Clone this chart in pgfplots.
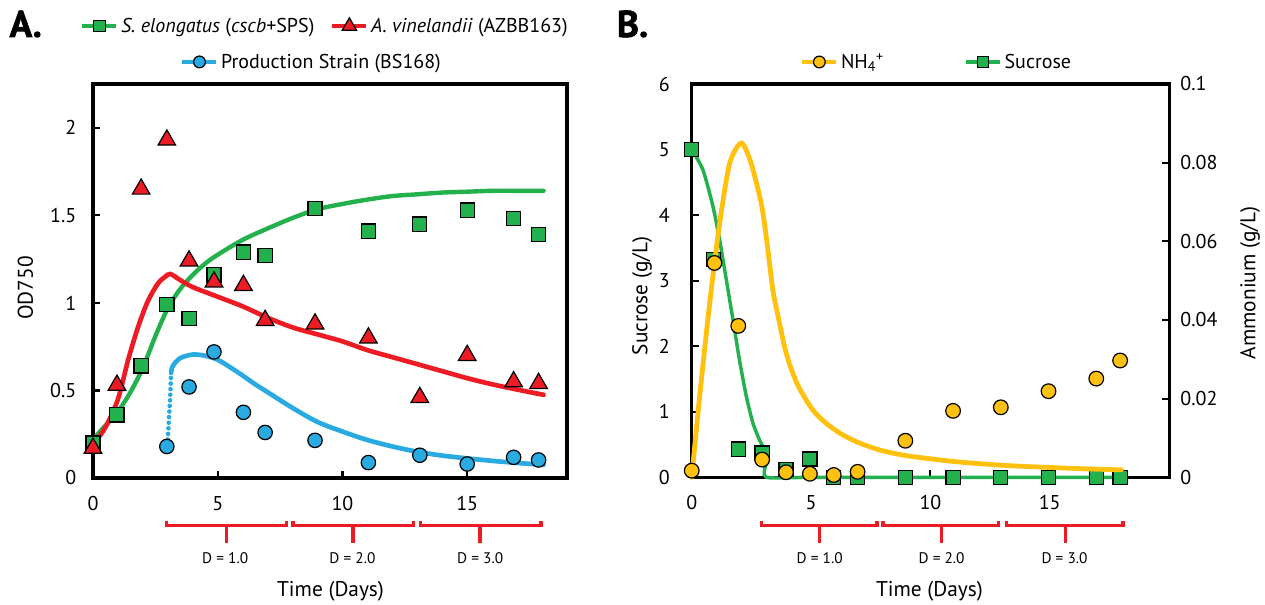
\documentclass[border=0pt]{standalone}
\usepackage{fontspec}
\setmainfont{PT Sans}
\newfontfamily\heavyfont[FakeBold=1.6]{PT Sans}
\usepackage{pgfplots}
\pgfplotsset{compat=1.18}
\definecolor{cgreen}{RGB}{34,177,76}
\definecolor{cred}{RGB}{237,28,36}
\definecolor{cblue}{RGB}{41,171,226}
\definecolor{cyel}{RGB}{255,192,14}
\tikzset{brk/.style={cred, line width=2.6pt}}
\pgfplotsset{
  base/.style={
    scale only axis, clip=false,
    axis line style={line width=2.3pt, black},
    every tick/.style={black, line width=1.6pt},
    major tick length=5.5pt, tick align=inside,
    ticklabel style={font=\fontsize{15}{18}\selectfont},
    /pgf/number format/assume math mode=true,
    legend style={draw=none, fill=none, inner sep=0pt, font=\fontsize{15}{18}\selectfont, anchor=west},
    legend image code/.code={\draw[##1, mark repeat=2, mark phase=2] plot coordinates {(0pt,0pt)(12.75pt,0pt)(25.5pt,0pt)};},
  },
  sqm/.style={mark=square*, mark size=#1, mark options={solid, fill=cgreen, draw=black, line width=0.9pt}},
  trm/.style={mark=triangle*, mark size=#1, mark options={solid, fill=cred, draw=black, line width=0.9pt}},
  cbm/.style={mark=*, mark size=#1, mark options={solid, fill=cblue, draw=black, line width=0.9pt}},
  cym/.style={mark=*, mark size=#1, mark options={solid, fill=cyel, draw=black, line width=0.9pt}},
}
\begin{document}
\begin{tikzpicture}
\useasboundingbox (0pt,0pt) rectangle (948.75pt,-453.75pt);
% ---------------- Panel A ----------------
\begin{axis}[base, at={(69.75pt,-358.5pt)}, anchor=south west, width=355.5pt, height=295.5pt,
  xmin=0, xmax=19, ymin=0, ymax=2.25, xtick={0,5,10,15}, ytick={0,0.5,1,1.5,2},
  xtick pos=bottom, ytick pos=left,
  xticklabel style={yshift=-10pt}, yticklabel style={xshift=-9pt},
  legend columns=2,
  legend style={at={(axis description cs:-0.027,1.147)}, /tikz/every even column/.append style={column sep=10pt}}]
\addlegendimage{cgreen, line width=3pt, sqm=4.3pt}
\addlegendentry{\textit{S. elongatus} (\textit{cscb}+SPS)}
\addlegendimage{cred, line width=3pt, trm=6.2pt}
\addlegendentry{\textit{A. vinelandii} (AZBB163)}
% model curves
\addplot[forget plot, cgreen, line width=3.3pt, line cap=round, smooth] coordinates {
(0,0.22)(0.5,0.30)(1.0,0.38)(1.5,0.49)(2.0,0.63)(2.5,0.81)(3.0,0.97)(3.5,1.08)(4.0,1.16)(4.5,1.225)(5.0,1.275)
(6.0,1.36)(7.0,1.425)(8.0,1.485)(9.0,1.535)(10,1.565)(11,1.59)(12,1.61)(13,1.62)(14,1.63)(15,1.635)(16,1.64)(17,1.64)(18.06,1.64)};
\addplot[forget plot, cred, line width=3.5pt, line cap=round, smooth, tension=0.5] coordinates {
(0,0.19)(0.5,0.29)(1.0,0.45)(1.4,0.67)(1.8,0.86)(2.2,1.01)(2.6,1.11)(2.9,1.15)(3.1,1.165)(3.5,1.13)(4.0,1.09)
(5.0,1.035)(6.0,0.98)(7.0,0.915)(8.0,0.86)(9.0,0.82)(10,0.78)(11,0.73)(12,0.69)(13,0.65)(14,0.61)(15,0.57)(16,0.535)(17,0.505)(18.06,0.475)};
\addplot[forget plot, cblue, line width=3.5pt, line cap=round, dash pattern=on 0pt off 4.2pt, smooth] coordinates {
(3.0,0.22)(3.05,0.35)(3.1,0.48)(3.13,0.6)};
\addplot[forget plot, cblue, line width=3.5pt, line cap=round, smooth] coordinates {
(3.13,0.6)(3.2,0.64)(3.5,0.685)(4.0,0.705)(4.5,0.698)(5.0,0.675)(5.5,0.632)(6.0,0.585)(6.5,0.535)(7.0,0.49)
(8.0,0.40)(9.0,0.32)(10,0.265)(11,0.217)(12,0.18)(13,0.15)(14,0.128)(15,0.112)(16,0.098)(17,0.086)(18.06,0.075)};
% data
\addplot[forget plot, only marks, sqm=5.3pt] coordinates {
(0,0.20)(0.96,0.36)(1.93,0.64)(2.96,0.99)(3.85,0.91)(4.85,1.16)(6.03,1.29)(6.9,1.27)(8.9,1.54)(11.04,1.41)(13.1,1.45)(15.0,1.53)(16.86,1.48)(17.86,1.39)};
\addplot[forget plot, only marks, trm=7.6pt] coordinates {
(0,0.17)(0.96,0.53)(1.93,1.65)(2.96,1.93)(3.85,1.24)(4.85,1.12)(6.03,1.10)(6.9,0.90)(8.9,0.88)(11.04,0.80)(13.1,0.46)(15.0,0.70)(16.86,0.55)(17.86,0.54)};
\addplot[forget plot, only marks, cbm=5.4pt] coordinates {
(2.96,0.18)(3.85,0.52)(4.85,0.72)(6.03,0.375)(6.9,0.26)(8.9,0.215)(11.04,0.088)(13.1,0.13)(15.0,0.08)(16.86,0.118)(17.86,0.103)};
% day brackets
\draw[brk] (axis cs:2.95,-0.244) -- (axis cs:2.95,-0.270) -- (axis cs:7.76,-0.270) -- (axis cs:7.76,-0.244);
\draw[brk] (axis cs:8.02,-0.244) -- (axis cs:8.02,-0.270) -- (axis cs:12.84,-0.270) -- (axis cs:12.84,-0.244);
\draw[brk] (axis cs:13.12,-0.244) -- (axis cs:13.12,-0.270) -- (axis cs:17.96,-0.270) -- (axis cs:17.96,-0.244);
\draw[brk] (axis cs:5.36,-0.270) -- (axis cs:5.36,-0.373);
\draw[brk] (axis cs:10.42,-0.270) -- (axis cs:10.42,-0.373);
\draw[brk] (axis cs:15.52,-0.270) -- (axis cs:15.52,-0.373);
\node[font=\fontsize{11.5}{13}\selectfont] at (axis cs:5.3,-0.457) {D = 1.0};
\node[font=\fontsize{11.5}{13}\selectfont] at (axis cs:10.4,-0.457) {D = 2.0};
\node[font=\fontsize{11.5}{13}\selectfont] at (axis cs:15.52,-0.457) {D = 3.0};
\end{axis}
% second legend row of panel A
\begin{axis}[base, at={(69.75pt,-358.5pt)}, anchor=south west, width=355.5pt, height=295.5pt,
  xmin=0, xmax=19, ymin=0, ymax=2.25, hide axis,
  legend style={at={(axis description cs:0.184,1.056)}}]
\addlegendimage{cblue, line width=3pt, cbm=4.4pt}
\addlegendentry{Production Strain (BS168)}
\end{axis}
% ---------------- Panel B ----------------
\begin{axis}[base, at={(518.8pt,-358pt)}, anchor=south west, width=358pt, height=295pt,
  xmin=0, xmax=20, ymin=0, ymax=6, xtick={0,5,10,15}, ytick={0,1,2,3,4,5,6},
  xtick pos=bottom, ytick pos=left,
  xticklabel style={yshift=-10pt}, yticklabel style={xshift=-13pt},
  legend columns=2,
  legend style={at={(axis description cs:0.227,1.056)}, /tikz/every even column/.append style={column sep=58pt}}]
\addlegendimage{cyel, line width=3pt, cym=4.4pt}
\addlegendentry{NH\textsubscript{4}\textsuperscript{+}}
\addlegendimage{cgreen, line width=3pt, sqm=4.3pt}
\addlegendentry{Sucrose}
\addplot[forget plot, cgreen, line width=2.6pt, line cap=round, smooth, tension=0.4] coordinates {
(0,5.0)(0.47,4.69)(0.89,4.13)(1.17,3.62)(1.45,3.01)(1.73,2.40)(2.0,1.79)(2.29,1.23)(2.57,0.82)(2.84,0.57)(3.05,0.42)(3.1,0.21)(3.13,0.0)(5,0)(10,0)(15,0)(18.0,0)};
\addplot[forget plot, only marks, sqm=5.3pt] coordinates {
(0,5.0)(0.9,3.32)(1.95,0.43)(2.95,0.37)(3.95,0.12)(4.95,0.28)(5.95,0)(6.95,0)(8.95,0)(10.95,0)(12.95,0)(14.95,0)(16.95,0)(17.95,0)};
\draw[brk] (axis cs:2.92,-0.662) -- (axis cs:2.92,-0.732) -- (axis cs:7.77,-0.732) -- (axis cs:7.77,-0.662);
\draw[brk] (axis cs:8.02,-0.662) -- (axis cs:8.02,-0.732) -- (axis cs:12.86,-0.732) -- (axis cs:12.86,-0.662);
\draw[brk] (axis cs:13.18,-0.662) -- (axis cs:13.18,-0.732) -- (axis cs:18.07,-0.732) -- (axis cs:18.07,-0.662);
\draw[brk] (axis cs:5.36,-0.732) -- (axis cs:5.36,-1.007);
\draw[brk] (axis cs:10.46,-0.732) -- (axis cs:10.46,-1.007);
\draw[brk] (axis cs:15.66,-0.732) -- (axis cs:15.66,-1.007);
\node[font=\fontsize{11.5}{13}\selectfont] at (axis cs:5.36,-1.231) {D = 1.0};
\node[font=\fontsize{11.5}{13}\selectfont] at (axis cs:10.47,-1.231) {D = 2.0};
\node[font=\fontsize{11.5}{13}\selectfont] at (axis cs:15.62,-1.231) {D = 3.0};
\end{axis}
\begin{axis}[base, at={(518.8pt,-358pt)}, anchor=south west, width=358pt, height=295pt,
  xmin=0, xmax=20, ymin=0, ymax=0.1, axis x line=none, axis y line*=right,
  ytick={0,0.02,0.04,0.06,0.08,0.1}, yticklabels={0,0.02,0.04,0.06,0.08,0.1},
  scaled y ticks=false, yticklabel style={xshift=5pt}]
\addplot[cyel, line width=3.6pt, line cap=round, smooth, tension=0.45] coordinates {
(0,0.0)(0.33,0.0205)(0.75,0.0442)(1.17,0.0646)(1.59,0.0798)(2.08,0.085)(2.49,0.0798)(2.91,0.0697)(3.12,0.0612)(3.4,0.0476)
(3.6,0.0415)(3.87,0.0337)(4.1,0.0287)(4.43,0.0236)(4.8,0.0196)(5.13,0.0167)(5.6,0.0139)(6.24,0.0111)(7.0,0.0088)
(7.9,0.0069)(9.0,0.0055)(10.7,0.0042)(12.0,0.0035)(13.5,0.0029)(16.3,0.0022)(18.0,0.0019)};
\addplot[only marks, cym=5.5pt] coordinates {
(0,0.0017)(0.95,0.0545)(1.95,0.0385)(2.95,0.0045)(3.95,0.0013)(4.95,0.0009)(5.95,0.0006)(6.95,0.0014)(8.95,0.0093)(10.95,0.0169)(12.95,0.0178)(14.95,0.0219)(16.95,0.0251)(17.95,0.0297)};
\end{axis}
% ---------------- texts ----------------
\node[anchor=base west, font=\fontsize{28}{30}\heavyfont\bfseries, inner sep=0pt] at (7pt,-27.75pt) {A.};
\node[anchor=base west, font=\fontsize{28}{30}\heavyfont\bfseries, inner sep=0pt] at (462.5pt,-27.75pt) {B.};
\node[rotate=90, font=\fontsize{16}{18}\selectfont] at (19.1pt,-216pt) {OD750};
\node[rotate=90, font=\fontsize{16}{18}\selectfont] at (481.5pt,-222pt) {Sucrose (g/L)};
\node[rotate=90, font=\fontsize{16}{18}\selectfont] at (937.5pt,-212.25pt) {Ammonium (g/L)};
\node[font=\fontsize{16}{18}\selectfont] at (247.9pt,-443.25pt) {Time (Days)};
\node[font=\fontsize{16}{18}\selectfont] at (697.1pt,-443.25pt) {Time (Days)};
\end{tikzpicture}
\end{document}
